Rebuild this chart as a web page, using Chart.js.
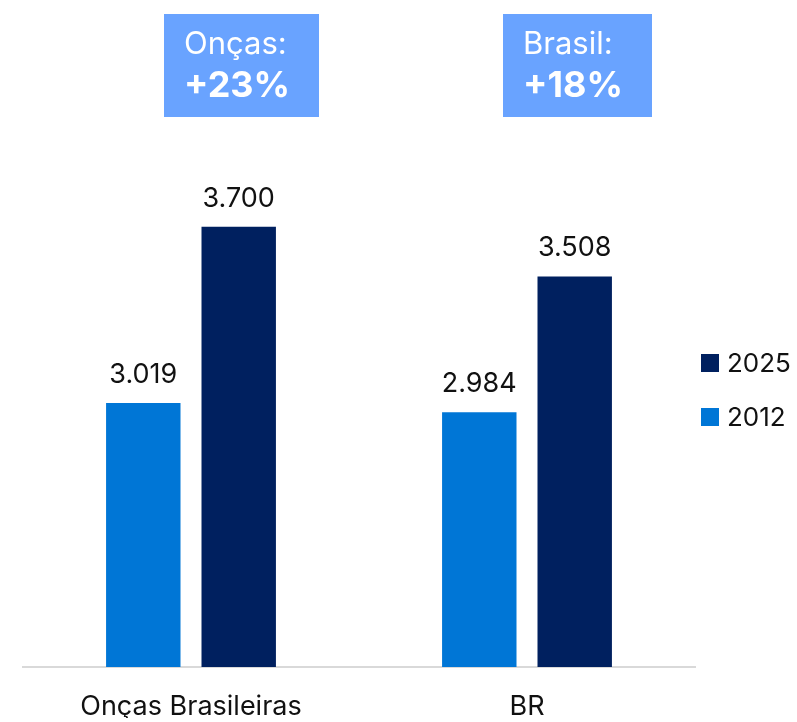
<!DOCTYPE html>
<html>
<head>
<meta charset="utf-8">
<script src="https://cdn.jsdelivr.net/npm/chart.js@4.4.1/dist/chart.umd.min.js"></script>
<style>
html,body{margin:0;padding:0;background:#fff;}
#wrap{width:797px;height:722px;position:relative;}
</style>
</head>
<body>
<div id="wrap"><canvas id="c" width="797" height="722"></canvas></div>
<script>
const categories = ['Onças Brasileiras', 'BR'];
const seriesNames = ['2012', '2025'];
const values2012 = [3019, 2984];
const values2025 = [3700, 3508];
const boxTitles = ['Onças:', 'Brasil:'];
const boxGrowth = ['+23%', '+18%'];
const yMin = 2000;
const yMax = 4000;

const COL_2012 = '#0076D6';
const COL_2025 = '#00205F';
const COL_BOX = '#69A3FF';
const FONT = 'Inter, "Noto Sans", sans-serif';

const fmt = v => v.toLocaleString('pt-BR');

const labelsPlugin = {
  id: 'valueLabels',
  afterDatasetsDraw(chart) {
    const ctx = chart.ctx;
    ctx.save();
    ctx.font = '400 27px ' + FONT;
    ctx.fillStyle = '#111';
    ctx.textAlign = 'center';
    ctx.textBaseline = 'alphabetic';
    chart.data.datasets.forEach((ds, di) => {
      const meta = chart.getDatasetMeta(di);
      meta.data.forEach((bar, i) => {
        ctx.fillText(fmt(ds.data[i]), bar.x, bar.y - 20);
      });
    });
    ctx.restore();
  }
};

const boxesPlugin = {
  id: 'growthBoxes',
  afterDraw(chart) {
    const ctx = chart.ctx;
    const meta = chart.getDatasetMeta(1);
    ctx.save();
    meta.data.forEach((bar, i) => {
      ctx.font = '400 31px ' + FONT;
      const w1 = ctx.measureText(boxTitles[i]).width;
      ctx.font = '700 36px ' + FONT;
      const w2 = ctx.measureText(boxGrowth[i]).width;
      const w = Math.max(w1, w2) + 49;
      const cx = bar.x + 3;
      const left = Math.round(cx - w / 2);
      ctx.fillStyle = COL_BOX;
      ctx.fillRect(left, 14, Math.round(w), 103);
      ctx.fillStyle = '#fff';
      ctx.textAlign = 'left';
      ctx.textBaseline = 'alphabetic';
      ctx.font = '400 31px ' + FONT;
      ctx.fillText(boxTitles[i], left + 20, 54);
      ctx.font = '700 36px ' + FONT;
      ctx.fillText(boxGrowth[i], left + 20, 97);
    });
    ctx.restore();
  }
};

const legendPlugin = {
  id: 'customLegend',
  afterDraw(chart) {
    const ctx = chart.ctx;
    ctx.save();
    const order = [1, 0];
    const ys = [363, 417];
    order.forEach((di, k) => {
      const ds = chart.data.datasets[di];
      ctx.fillStyle = ds.backgroundColor;
      ctx.fillRect(701, ys[k] - 9, 18, 18);
      ctx.fillStyle = '#111';
      ctx.font = '400 26px ' + FONT;
      ctx.textAlign = 'left';
      ctx.textBaseline = 'middle';
      ctx.fillText(ds.label, 727, ys[k] + 1);
    });
    ctx.restore();
  }
};

new Chart(document.getElementById('c'), {
  type: 'bar',
  data: {
    labels: categories,
    datasets: [
      { label: seriesNames[0], data: values2012, backgroundColor: COL_2012 },
      { label: seriesNames[1], data: values2025, backgroundColor: COL_2025 }
    ]
  },
  options: {
    responsive: false,
    animation: false,
    devicePixelRatio: 1,
    categoryPercentage: 0.568,
    barPercentage: 0.78,
    layout: { padding: { left: 23, right: 102, top: 149, bottom: 4 } },
    plugins: { legend: { display: false }, tooltip: { enabled: false } },
    scales: {
      x: {
        grid: { display: false, drawTicks: false },
        border: { display: true, color: '#D9D9D9', width: 2 },
        ticks: { color: '#111', font: { family: FONT, size: 27 }, padding: 24, maxRotation: 0 },
        afterFit(scale) { scale.height = 51; }
      },
      y: { display: false, min: yMin, max: yMax }
    }
  },
  plugins: [labelsPlugin, boxesPlugin, legendPlugin]
});
</script>
</body>
</html>
